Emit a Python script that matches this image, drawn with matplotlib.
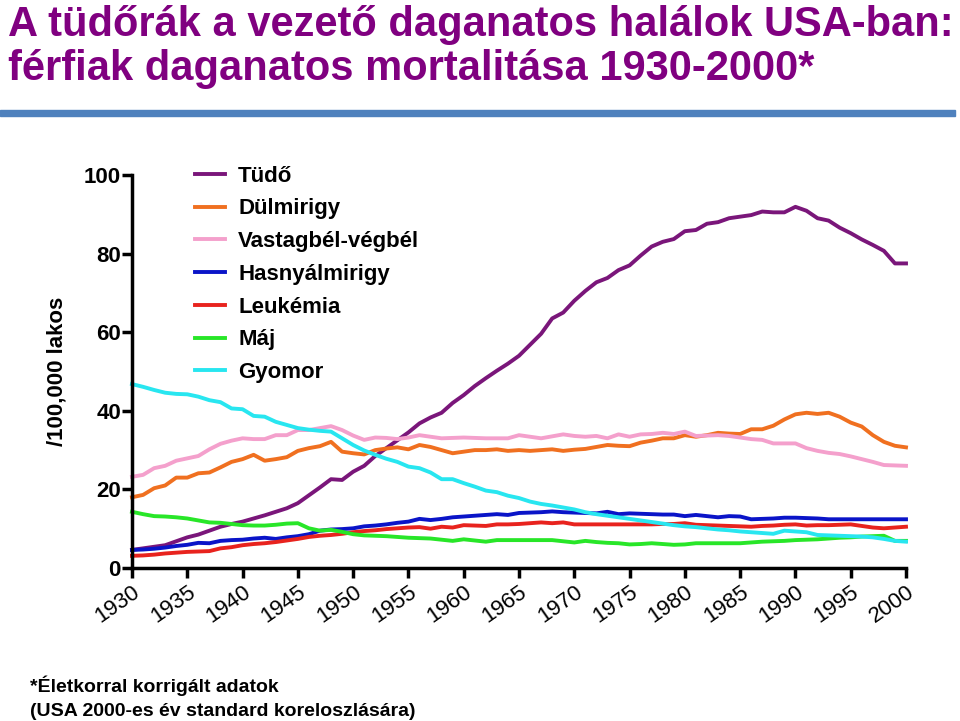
import numpy as np
import matplotlib
matplotlib.use("Agg")
import matplotlib.pyplot as plt
from matplotlib.patches import Rectangle

plt.rcParams['font.family'] = ['Liberation Sans', 'DejaVu Sans']

years = np.arange(1930, 2001)

# Age-adjusted male cancer death rates per 100,000
lung = [4.6, 5.0, 5.4, 5.8, 6.8, 7.8, 8.5, 9.5, 10.5, 11.2,
        11.8, 12.6, 13.4, 14.3, 15.2, 16.5, 18.5, 20.5, 22.6, 22.4,
        24.5, 26.0, 28.5, 30.5, 32.5, 34.5, 36.8, 38.3, 39.5, 42.0,
        44.0, 46.3, 48.3, 50.2, 52.0, 54.0, 56.8, 59.6, 63.5, 65.0,
        68.0, 70.5, 72.7, 73.8, 75.8, 77.0, 79.5, 81.8, 83.0, 83.7,
        85.7, 86.0, 87.6, 88.0, 89.0, 89.4, 89.8, 90.7, 90.5, 90.5,
        91.9, 90.9, 89.0, 88.4, 86.6, 85.2, 83.6, 82.2, 80.7, 77.5,
        77.5]
prostate = [18.0, 18.6, 20.3, 21.0, 23.0, 23.0, 24.1, 24.3, 25.6, 27.0,
            27.7, 28.8, 27.3, 27.7, 28.2, 29.8, 30.5, 31.0, 32.1, 29.6,
            29.2, 28.9, 30.0, 30.4, 30.7, 30.2, 31.3, 30.8, 30.0, 29.2,
            29.6, 30.0, 30.0, 30.2, 29.8, 30.0, 29.8, 30.0, 30.2, 29.8,
            30.1, 30.3, 30.8, 31.3, 31.1, 31.0, 31.9, 32.4, 33.0, 33.0,
            33.8, 33.4, 33.8, 34.4, 34.2, 34.1, 35.3, 35.3, 36.2, 37.8,
            39.1, 39.5, 39.2, 39.5, 38.5, 37.0, 36.0, 33.8, 32.1, 31.1,
            30.7]
colorectal = [23.2, 23.7, 25.4, 26.0, 27.3, 27.9, 28.5, 30.2, 31.6, 32.4,
              33.0, 32.8, 32.8, 33.8, 33.8, 35.1, 35.1, 35.6, 36.1, 35.1,
              33.7, 32.6, 33.2, 33.1, 32.8, 33.2, 33.8, 33.4, 33.0, 33.1,
              33.2, 33.1, 33.0, 33.0, 33.0, 33.8, 33.4, 33.0, 33.5, 34.0,
              33.6, 33.4, 33.6, 33.0, 34.0, 33.4, 34.0, 34.1, 34.4, 34.1,
              34.7, 33.6, 33.7, 33.8, 33.6, 33.2, 32.8, 32.6, 31.7, 31.7,
              31.7, 30.5, 29.8, 29.3, 29.0, 28.4, 27.7, 27.0, 26.2, 26.1,
              26.0]
pancreas = [4.6, 4.7, 4.9, 5.2, 5.6, 5.9, 6.4, 6.3, 6.9, 7.1,
            7.2, 7.5, 7.7, 7.4, 7.8, 8.1, 8.6, 9.5, 9.8, 9.9,
            10.1, 10.6, 10.8, 11.1, 11.5, 11.8, 12.5, 12.2, 12.5, 12.9,
            13.1, 13.3, 13.5, 13.7, 13.5, 14.0, 14.1, 14.2, 14.4, 14.2,
            14.1, 14.0, 13.9, 14.3, 13.7, 13.9, 13.8, 13.7, 13.6, 13.6,
            13.2, 13.5, 13.2, 12.9, 13.2, 13.1, 12.4, 12.5, 12.6, 12.8,
            12.8, 12.7, 12.6, 12.4, 12.4, 12.4, 12.4, 12.4, 12.4, 12.4,
            12.4]
leukemia = [3.1, 3.2, 3.4, 3.7, 3.9, 4.1, 4.2, 4.3, 5.0, 5.3,
            5.8, 6.1, 6.3, 6.6, 7.0, 7.4, 7.9, 8.2, 8.4, 8.7,
            9.1, 9.4, 9.6, 9.9, 10.1, 10.3, 10.4, 10.0, 10.5, 10.3,
            10.9, 10.8, 10.7, 11.1, 11.1, 11.2, 11.4, 11.6, 11.4, 11.6,
            11.1, 11.1, 11.1, 11.1, 11.1, 11.1, 11.1, 11.1, 11.2, 11.2,
            11.4, 11.0, 10.9, 10.8, 10.7, 10.6, 10.5, 10.7, 10.8, 11.0,
            11.1, 10.8, 10.9, 10.9, 11.0, 11.1, 10.7, 10.3, 10.1, 10.3,
            10.5]
liver = [14.3, 13.7, 13.2, 13.1, 12.9, 12.6, 12.1, 11.6, 11.5, 11.2,
         10.9, 10.8, 10.8, 11.0, 11.3, 11.4, 10.1, 9.5, 9.7, 9.2,
         8.6, 8.3, 8.2, 8.1, 7.9, 7.7, 7.6, 7.5, 7.2, 6.9,
         7.3, 7.0, 6.7, 7.1, 7.1, 7.1, 7.1, 7.1, 7.1, 6.8,
         6.5, 6.9, 6.6, 6.4, 6.3, 6.0, 6.1, 6.3, 6.1, 5.9,
         6.0, 6.3, 6.3, 6.3, 6.3, 6.3, 6.5, 6.7, 6.8, 6.9,
         7.1, 7.2, 7.3, 7.5, 7.7, 7.8, 8.0, 8.1, 8.2, 6.9,
         6.9]
stomach = [46.8, 46.1, 45.3, 44.6, 44.3, 44.2, 43.6, 42.7, 42.2, 40.6,
           40.4, 38.7, 38.5, 37.2, 36.4, 35.6, 35.2, 34.9, 34.7, 33.0,
           31.3, 29.9, 28.8, 27.8, 27.0, 25.8, 25.4, 24.3, 22.6, 22.6,
           21.6, 20.7, 19.7, 19.3, 18.4, 17.8, 16.9, 16.3, 15.9, 15.4,
           14.9, 14.2, 13.7, 13.3, 12.9, 12.5, 12.1, 11.7, 11.3, 10.9,
           10.6, 10.4, 10.1, 9.8, 9.6, 9.3, 9.1, 8.9, 8.7, 9.5,
           9.3, 9.1, 8.4, 8.3, 8.2, 8.1, 8.0, 7.8, 7.4, 6.9,
           6.7]

labels = ['Tüdő', 'Dülmirigy', 'Vastagbél-végbél', 'Hasnyálmirigy',
          'Leukémia', 'Máj', 'Gyomor']
series = [lung, prostate, colorectal, pancreas, leukemia, liver, stomach]
colors = ['#7a167a', '#f07020', '#f4a0cc', '#0a14c8', '#e8231e',
          '#28e628', '#28e6f0']

fig = plt.figure(figsize=(9.6, 7.21), dpi=100)

# title
title_color = '#800080'
fig.text(0.008, 1 - 36 / 721, 'A tüdőrák a vezető daganatos halálok USA-ban:',
         fontsize=30, fontweight='bold', color=title_color, va='baseline')
fig.text(0.008, 1 - 80 / 721, 'férfiak daganatos mortalitása 1930-2000*',
         fontsize=30, fontweight='bold', color=title_color, va='baseline')
fig.patches.append(Rectangle((0, 1 - 116 / 721), 955 / 960, 6 / 721,
                             transform=fig.transFigure, color='#4f81bd'))

ax = fig.add_axes([132 / 960, 153 / 721, 774 / 960, 393 / 721])
for vals, lab, col in zip(series, labels, colors):
    ax.plot(years, vals, color=col, lw=2.8, label=lab, clip_on=False)

ax.set_xlim(1930, 2000)
ax.set_ylim(0, 100)
ax.set_xticks(np.arange(1930, 2001, 5))
ax.set_yticks(np.arange(0, 101, 20))
ax.spines['top'].set_visible(False)
ax.spines['right'].set_visible(False)
ax.spines['left'].set_linewidth(2.5)
ax.spines['bottom'].set_linewidth(2.5)
ax.tick_params(axis='both', width=2.5, length=7, direction='out')
ax.tick_params(axis='y', labelsize=16, pad=1)
ax.tick_params(axis='x', labelsize=16, pad=3)
for t in ax.get_yticklabels():
    t.set_fontweight('bold')
for t in ax.get_xticklabels():
    t.set_rotation(35)
    t.set_ha('right')
    t.set_rotation_mode('anchor')

ax.set_ylabel('/100,000 lakos', fontsize=16, fontweight='bold', labelpad=12)

leg = ax.legend(loc='upper left', bbox_to_anchor=(0.081, 1.024), frameon=False,
                prop={'size': 16, 'weight': 'bold'}, handlelength=1.35,
                handletextpad=0.6, labelspacing=0.53, borderpad=0,
                borderaxespad=0)

fig.text(30 / 960, 1 - 692 / 721, '*Életkorral korrigált adatok',
         fontsize=14, fontweight='bold', va='baseline')
fig.text(30 / 960, 1 - 716 / 721, '(USA 2000-es év standard koreloszlására)',
         fontsize=14, fontweight='bold', va='baseline')

fig.savefig('out.png', dpi=100)
